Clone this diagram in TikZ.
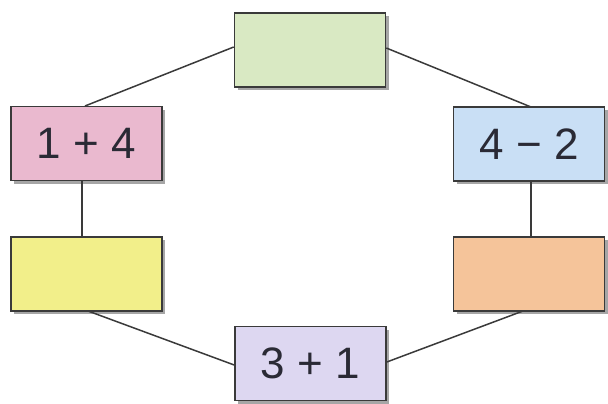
\documentclass[tikz,border=0pt]{standalone}
\usepackage{fontspec}
\setmainfont{Liberation Sans}
\usetikzlibrary{shadows}
\definecolor{cgreen}{HTML}{D9E9C3}
\definecolor{cpink}{HTML}{EAB9CF}
\definecolor{cblue}{HTML}{C9DFF5}
\definecolor{cyellow}{HTML}{F2EF8A}
\definecolor{corange}{HTML}{F5C49A}
\definecolor{cviolet}{HTML}{DDD7F1}
\definecolor{cline}{HTML}{3A3A3A}
\definecolor{ctext}{HTML}{2A2A35}
\tikzset{
  box/.style={draw=cline, line width=1.6pt, minimum width=151pt, minimum height=74pt,
    inner sep=0pt, font=\fontsize{44}{44}\selectfont, text=ctext,
    drop shadow={shadow xshift=3pt, shadow yshift=-3pt, opacity=0.35, fill=black}},
  link/.style={draw=cline, line width=1.5pt}
}
\begin{document}
\begin{tikzpicture}[x=1pt,y=-1pt]
\useasboundingbox (0,0) rectangle (608,404);
\node[box, fill=cgreen]  (top) at (310,50) {};
\node[box, fill=cpink]   (lu)  at (86.5,143.5) {1 + 4};
\node[box, fill=cblue]   (ru)  at (529,144) {4 − 2};
\node[box, fill=cyellow] (ll)  at (86.5,274) {};
\node[box, fill=corange] (rl)  at (529,274) {};
\node[box, fill=cviolet] (bot) at (310.5,363.5) {3 + 1};
\coordinate (a1) at (85,106);
\coordinate (a2) at (531,107);
\coordinate (a3) at (88,311);
\coordinate (a4) at (523,311);
\draw[link] (top.west |- 0,47) -- (a1);
\draw[link] (top.east |- 0,48) -- (a2);
\draw[link] (lu.south -| 82,0) -- (ll.north -| 82,0);
\draw[link] (ru.south -| 531,0) -- (rl.north -| 531,0);
\draw[link] (a3) -- (bot.west |- 0,365);
\draw[link] (a4) -- (bot.east |- 0,362);
\end{tikzpicture}
\end{document}
